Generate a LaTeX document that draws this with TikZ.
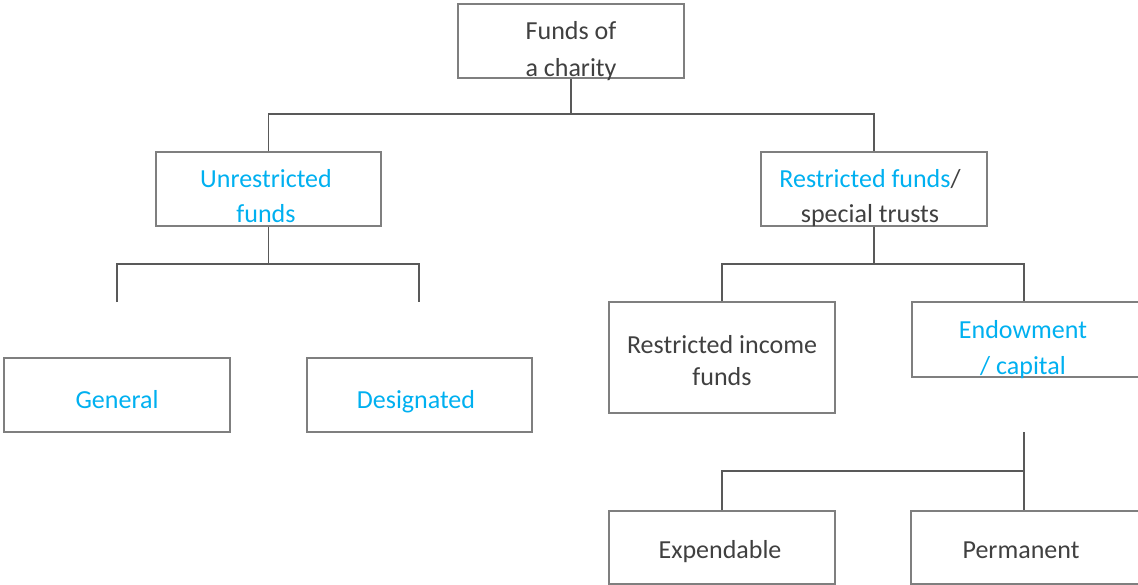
\documentclass[tikz,border=0pt]{standalone}
\usepackage{fontspec}
\setmainfont{Carlito}
\definecolor{txtgray}{HTML}{404040}
\definecolor{skyblue}{HTML}{00B0F0}
\definecolor{boxgray}{HTML}{7F7F7F}
\definecolor{linegray}{HTML}{595959}
\begin{document}
\begin{tikzpicture}[x=1pt,y=-1pt,
  box/.style={draw=boxgray,line width=1.1pt,rectangle,inner sep=0pt},
  txt/.style={text=txtgray,align=center,inner sep=0pt,anchor=base,font=\fontsize{26}{36}\selectfont},
  lead/.style={font=\fontsize{26}{#1}\selectfont},
  conn/.style={draw=linegray,line width=1.1pt}]
\useasboundingbox (0,0) rectangle (1138,584);
% boxes
\node[box,minimum width=226pt,minimum height=74pt] (top) at (571,41) {};
\node[box,minimum width=225pt,minimum height=74pt] (unres) at (268.5,189) {};
\node[box,minimum width=226pt,minimum height=74pt] (resf) at (874,189) {};
\node[box,minimum width=226pt,minimum height=111pt] (rinc) at (722,357.5) {};
\node[box,minimum width=230pt,minimum height=75pt] (endow) at (1027,339.5) {};
\node[box,minimum width=226pt,minimum height=74pt] (gen) at (117,395) {};
\node[box,minimum width=225pt,minimum height=74pt] (desig) at (419.5,395) {};
\node[box,minimum width=226pt,minimum height=73pt] (exp) at (722,547.5) {};
\node[box,minimum width=230pt,minimum height=73pt] (perm) at (1026,547.5) {};
% texts (base anchor = baseline of the last line)
\node[txt,lead=37] (ttop) at (571,76) {Funds of\\a charity};
\node[txt,lead=35,text=skyblue] (tunres) at (266,222) {Unrestricted\\funds};
\node[txt,lead=35] (tresf) at (870,222) {\textcolor{skyblue}{Restricted funds}/\\special trusts};
\node[txt,lead=32] (trinc) at (722,385) {Restricted income\\funds};
\node[txt,lead=36,text=skyblue] (tendow) at (1023,374) {Endowment\\/ capital};
\node[txt,text=skyblue] (tgen) at (117,408) {General};
\node[txt,text=skyblue] (tdesig) at (416,408) {Designated};
\node[txt] (texp) at (720,558) {Expendable};
\node[txt] (tperm) at (1021,558) {Permanent};
% junction coordinates
\coordinate (j1) at (571,114);
\coordinate (j2) at (268.5,264);
\coordinate (j3) at (874,264);
\coordinate (j4) at (1024,471);
\coordinate (gfree) at (117,302);
\coordinate (dfree) at (419,302);
\coordinate (efree) at (1024,432);
% connectors
\draw[conn] (top.south) -- (j1);
\draw[conn] (unres.north) |- (j1) -| (resf.north);
\draw[conn] (unres.south) -- (j2);
\draw[conn] (gfree) |- (j2) -| (dfree);
\draw[conn] (resf.south) -- (j3);
\draw[conn] (rinc.north) |- (j3) -| ([xshift=-3pt]endow.north);
\draw[conn] (efree) -- ([xshift=-2pt]perm.north);
\draw[conn] (exp.north) |- (j4);
\end{tikzpicture}
\end{document}
